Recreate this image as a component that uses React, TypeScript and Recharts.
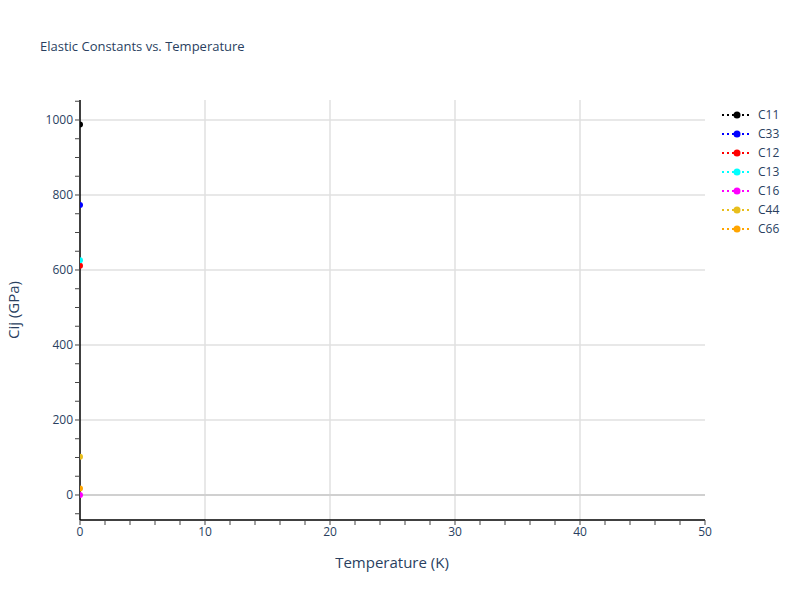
import React from 'react';
import {
  ScatterChart,
  Scatter,
  XAxis,
  YAxis,
  ReferenceLine,
} from 'recharts';

// one measurement per constant, all at T = 0 K
const seriesNames = ['C11', 'C33', 'C12', 'C13', 'C16', 'C44', 'C66'];
const seriesColors = ['#000000', '#0000ff', '#ff0000', '#00ffff', '#ff00ff', '#e8be1c', '#ffa500'];
const temperatures = [0];
const c11 = [988];
const c33 = [773];
const c12 = [611];
const c13 = [626];
const c16 = [0];
const c44 = [102];
const c66 = [17];
const seriesValues = [c11, c33, c12, c13, c16, c44, c66];

const xTicks = [0, 2, 4, 6, 8, 10, 12, 14, 16, 18, 20, 22, 24, 26, 28, 30, 32, 34, 36, 38, 40, 42, 44, 46, 48, 50];
const xGrid = [10, 20, 30, 40];
const yTicks = [-50, 0, 50, 100, 150, 200, 250, 300, 350, 400, 450, 500, 550, 600, 650, 700, 750, 800, 850, 900, 950, 1000, 1050];
const yGrid = [200, 400, 600, 800, 1000];

const textColor = '#2a3f5f';
const font = '"Open Sans", verdana, arial, sans-serif';

const LegendBox = () => (
  <div style={{ position: 'absolute', left: 719, top: 105, fontFamily: font, fontSize: 12, color: textColor }}>
    {seriesNames.map((name, i) => (
      <div key={name} style={{ display: 'flex', alignItems: 'center', height: 19 }}>
        <svg width={34} height={10}>
          <line x1={3} y1={5} x2={33} y2={5} stroke={seriesColors[i]} strokeWidth={2} strokeDasharray="2 3" />
          <circle cx={18} cy={5} r={3.5} fill={seriesColors[i]} />
        </svg>
        <span style={{ marginLeft: 5 }}>{name}</span>
      </div>
    ))}
  </div>
);

export default function App() {
  return (
    <div style={{ position: 'absolute', left: 0, top: 0, width: 800, height: 600, background: '#fff', fontFamily: font }}>
      <div style={{ position: 'absolute', left: 40, top: 37, fontSize: 13, color: textColor }}>
        Elastic Constants vs. Temperature
      </div>
      <div style={{ position: 'absolute', left: 392, top: 552, fontSize: 15, color: textColor, transform: 'translateX(-50%)' }}>
        Temperature (K)
      </div>
      <div
        style={{
          position: 'absolute',
          left: 13,
          top: 310,
          fontSize: 15,
          color: textColor,
          transform: 'translate(-50%, -50%) rotate(-90deg)',
          whiteSpace: 'nowrap',
        }}
      >
        Cij (GPa)
      </div>

      <ScatterChart width={800} height={600} margin={{ top: 100, right: 95, bottom: 0, left: 0 }}>
        {xGrid.map((v) => (
          <ReferenceLine key={'x' + v} x={v} stroke="#e0e0e0" strokeWidth={1.5} ifOverflow="hidden" />
        ))}
        {yGrid.map((v) => (
          <ReferenceLine key={'y' + v} y={v} stroke="#e0e0e0" strokeWidth={1.5} ifOverflow="hidden" />
        ))}
        <ReferenceLine y={0} stroke="#d0d0d0" strokeWidth={2} />

        <XAxis
          type="number"
          dataKey="x"
          domain={[0, 50]}
          ticks={xTicks}
          interval={0}
          allowDataOverflow
          tickFormatter={(v) => (v % 10 === 0 ? String(v) : '')}
          height={80}
          axisLine={{ stroke: '#000', strokeWidth: 1.5 }}
          tickLine={{ stroke: '#444' }}
          tickSize={5}
          tick={{ fill: textColor, fontSize: 12, fontFamily: font }}
        />
        <YAxis
          type="number"
          dataKey="y"
          domain={[-66.7, 1053.3]}
          ticks={yTicks}
          interval={0}
          allowDataOverflow
          tickFormatter={(v) => (v % 200 === 0 ? String(v) : '')}
          width={80}
          axisLine={{ stroke: '#000', strokeWidth: 1.5 }}
          tickLine={{ stroke: '#444' }}
          tickSize={5}
          tick={{ fill: textColor, fontSize: 12, fontFamily: font }}
        />

        {seriesNames.map((name, i) => (
          <Scatter
            key={name}
            name={name}
            data={temperatures.map((t, j) => ({ x: t, y: seriesValues[i][j] }))}
            fill={seriesColors[i]}
            line={{ stroke: seriesColors[i], strokeDasharray: '2 3', strokeWidth: 2 }}
            shape={(p: any) => <circle cx={p.cx} cy={p.cy} r={3} fill={seriesColors[i]} />}
            isAnimationActive={false}
          />
        ))}
      </ScatterChart>
      <LegendBox />
    </div>
  );
}
